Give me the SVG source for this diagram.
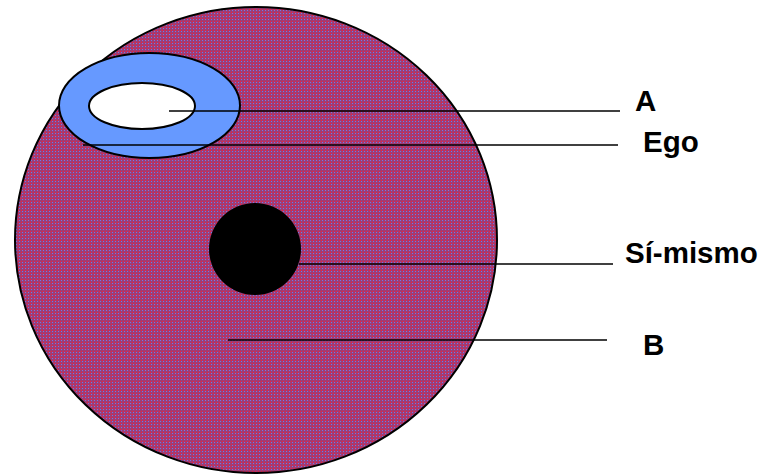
<svg xmlns="http://www.w3.org/2000/svg" width="761" height="474" viewBox="0 0 761 474">
<defs>
<pattern id="dots" width="3" height="3" patternUnits="userSpaceOnUse">
<rect width="3" height="3" fill="#a03c74"/>
<rect x="0" y="0" width="1" height="1" fill="#f0203c"/>
<rect x="1" y="1" width="1" height="1" fill="#7478e4"/>
</pattern>
</defs>
<style>
.outline{stroke:#000;stroke-width:2}
.conn{stroke:#000;stroke-width:1.5;fill:none}
.lbl{font-family:"Liberation Sans",Arial,sans-serif;font-weight:bold;font-size:29.5px;fill:#000}
</style>
<g id="B">
<ellipse cx="256" cy="240" rx="241" ry="233" fill="url(#dots)" class="outline"/>
</g>
<g id="Ego">
<ellipse cx="149.5" cy="105.5" rx="90.5" ry="52.5" fill="#6699ff" class="outline"/>
</g>
<g id="A">
<ellipse cx="142" cy="106" rx="53" ry="23" fill="#ffffff" class="outline"/>
</g>
<g id="SiMismo">
<circle cx="255" cy="249" r="46" fill="#000"/>
</g>
<g id="connectors">
<line class="conn" x1="169" y1="111" x2="620" y2="111"/>
<line class="conn" x1="83" y1="145" x2="618" y2="145"/>
<line class="conn" x1="299" y1="264" x2="613" y2="264"/>
<line class="conn" x1="228" y1="340" x2="607" y2="340"/>
</g>
<g id="labels">
<text class="lbl" x="635" y="111">A</text>
<text class="lbl" x="643" y="152">Ego</text>
<text class="lbl" x="625" y="263">Sí-mismo</text>
<text class="lbl" x="643" y="355">B</text>
</g>
</svg>
